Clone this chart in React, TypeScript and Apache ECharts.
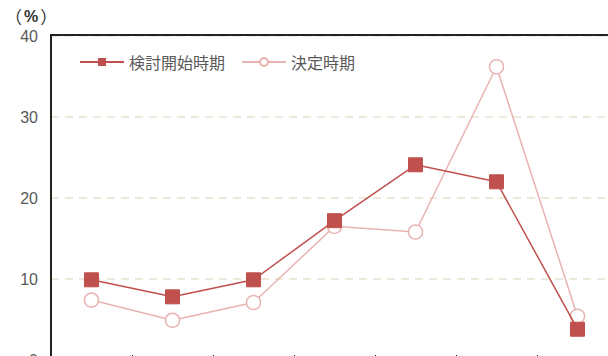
import React, { useEffect, useRef } from "react";
import * as echarts from "echarts";

const categories = ["1", "2", "3", "4", "5", "6", "7"];
const seriesNames = ["検討開始時期", "決定時期"];
const startValues = [9.9, 7.8, 9.9, 17.2, 24.1, 22.0, 3.8];
const decideValues = [7.4, 4.9, 7.1, 16.5, 15.8, 36.2, 5.4];
const yTicks = { min: 0, max: 40, interval: 10 };
const unitParts = ["（", "%", "）"];

export default function App() {
  const ref = useRef<HTMLDivElement>(null);
  useEffect(() => {
    if (!ref.current) return;
    const chart = echarts.init(ref.current, undefined, { renderer: "svg" });
    const font = '"Liberation Sans", "Noto Sans CJK JP", sans-serif';
    const cjk = '"Noto Sans CJK JP"';
    chart.setOption({
      animation: false,
      textStyle: { fontFamily: font },
      grid: {
        left: 51,
        top: 36,
        width: 567,
        height: 324,
        show: false,
      },
      graphic: [
        {
          type: "text",
          left: 5,
          top: 8,
          style: {
            text: `{p|${unitParts[0]}}{b|${unitParts[1]}}{p|${unitParts[2]}}`,
            rich: {
              p: { fontSize: 17, fill: "#333", fontFamily: cjk, fontWeight: "normal", padding: [0, 2] },
              b: { fontSize: 16, fill: "#333", fontFamily: font, fontWeight: "bold" },
            },
          },
        },
        {
          type: "line",
          z: 100,
          shape: { x1: 50, y1: 35, x2: 640, y2: 35 },
          style: { stroke: "#222", lineWidth: 2 },
        },
      ],
      legend: {
        left: 74,
        top: 49,
        itemWidth: 44,
        itemHeight: 10,
        itemGap: 16,
        textStyle: {
          fontSize: 16,
          color: "#595959",
          fontFamily: cjk,
        },
        data: seriesNames,
      },
      xAxis: {
        type: "category",
        data: categories,
        boundaryGap: true,
        axisLine: { show: true, lineStyle: { color: "#222", width: 2 } },
        axisTick: { show: true, inside: true, length: 5, lineStyle: { color: "#222" } },
        axisLabel: { show: false },
        splitLine: { show: false },
      },
      yAxis: {
        type: "value",
        min: yTicks.min,
        max: yTicks.max,
        interval: yTicks.interval,
        axisLine: { show: true, lineStyle: { color: "#222", width: 2 } },
        axisTick: { show: false },
        axisLabel: { fontSize: 16, color: "#595959", margin: 13 },
        splitLine: {
          show: true,
          lineStyle: { color: "#ece9da", width: 2, type: [8, 6] },
        },
      },
      series: [
        {
          name: seriesNames[1],
          type: "line",
          data: decideValues,
          symbol: "circle",
          symbolSize: 14,
          lineStyle: { color: "#e8b4b2", width: 1.5 },
          itemStyle: { color: "#ffffff", borderColor: "#e8b4b2", borderWidth: 1.5 },
          z: 2,
        },
        {
          name: seriesNames[0],
          type: "line",
          data: startValues,
          symbol: "rect",
          symbolSize: 14,
          lineStyle: { color: "#c0504d", width: 1.5 },
          itemStyle: { color: "#c0504d", borderColor: "#c0504d" },
          z: 3,
        },
      ],
    });
    return () => chart.dispose();
  }, []);
  return (
    <div
      style={{
        position: "fixed",
        left: 0,
        top: 0,
        width: 608,
        height: 356,
        overflow: "hidden",
        background: "#fff",
      }}
    >
      <div ref={ref} style={{ width: 640, height: 380 }} />
    </div>
  );
}
